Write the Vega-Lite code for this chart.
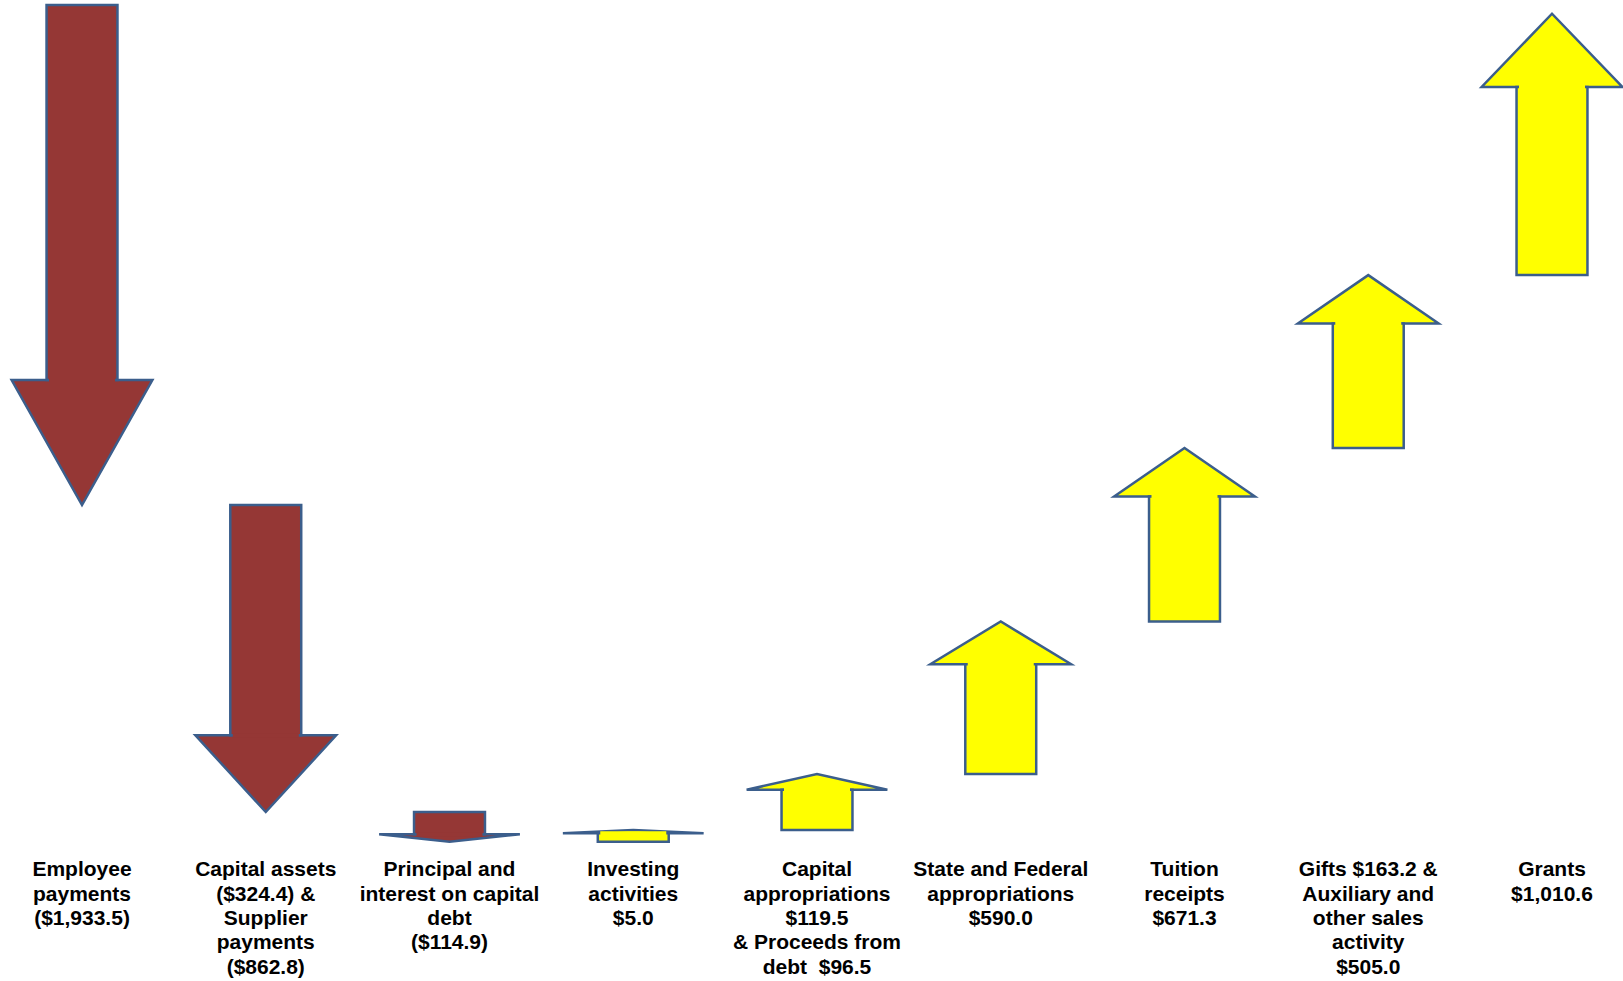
{
  "$schema": "https://vega.github.io/schema/vega-lite/v6.json",
  "width": 1623,
  "height": 981,
  "autosize": {"type": "none"},
  "padding": 0,
  "background": "white",
  "config": {"view": {"stroke": null}},
  "data": {
    "values": [
      {"idx": 0, "label": "Employee\npayments\n($1,933.5)", "flow": "Outflow", "amount": -1933.5, "start": 0, "end": -1933.5},
      {"idx": 1, "label": "Capital assets\n($324.4) &\nSupplier\npayments\n($862.8)", "flow": "Outflow", "amount": -1187.2, "start": -1933.5, "end": -3120.7},
      {"idx": 2, "label": "Principal and\ninterest on capital\ndebt\n($114.9)", "flow": "Outflow", "amount": -114.9, "start": -3120.7, "end": -3235.6},
      {"idx": 3, "label": "Investing\nactivities\n$5.0", "flow": "Inflow", "amount": 5.0, "start": -3235.6, "end": -3190},
      {"idx": 4, "label": "Capital\nappropriations\n$119.5\n& Proceeds from\ndebt \u00a0$96.5", "flow": "Inflow", "amount": 216.0, "start": -3190, "end": -2974},
      {"idx": 5, "label": "State and Federal\nappropriations\n$590.0", "flow": "Inflow", "amount": 590.0, "start": -2974, "end": -2384},
      {"idx": 6, "label": "Tuition\nreceipts\n$671.3", "flow": "Inflow", "amount": 671.3, "start": -2384, "end": -1712.7},
      {"idx": 7, "label": "Gifts $163.2 &\nAuxiliary and\nother sales\nactivity\n$505.0", "flow": "Inflow", "amount": 668.2, "start": -1712.7, "end": -1044.5},
      {"idx": 8, "label": "Grants\n$1,010.6", "flow": "Inflow", "amount": 1010.6, "start": -1044.5, "end": -33.9}
    ]
  },
  "transform": [
    {"calculate": "datum.end - (datum.end - datum.start) * (datum.flow == 'Outflow' ? 0.25 : 0.28)", "as": "neck"}
  ],
  "layer": [
    {
      "transform": [
        {"calculate": "datum.idx - 0.383", "as": "hl"},
        {"calculate": "datum.idx", "as": "hc"},
        {"calculate": "datum.idx + 0.383", "as": "hr"},
        {"fold": ["hl", "hc", "hr"], "as": ["vertex", "vx"]},
        {"calculate": "datum.vertex == 'hc' ? datum.end : datum.neck", "as": "vy2"}
      ],
      "mark": {"type": "area", "orient": "vertical", "stroke": "#3B5E8C", "strokeWidth": 2.5, "strokeJoin": "miter", "opacity": 1},
      "encoding": {
        "x": {"field": "vx", "type": "quantitative", "scale": {"domain": [-0.4463, 8.3864], "nice": false, "zero": false}, "axis": null},
        "y": {"field": "neck", "type": "quantitative", "scale": {"domain": [-3774.2, 19.3], "nice": false, "zero": false}, "axis": null},
        "y2": {"field": "vy2"},
        "detail": {"field": "label", "type": "nominal"},
        "color": {"field": "flow", "type": "nominal", "scale": {"domain": ["Outflow", "Inflow"], "range": ["#953735", "#FFFF00"]}, "legend": null}
      }
    },
    {
      "transform": [
        {"calculate": "datum.idx - 0.193", "as": "x0"},
        {"calculate": "datum.idx + 0.193", "as": "x1"}
      ],
      "mark": {"type": "rect", "stroke": "#3B5E8C", "strokeWidth": 2.5, "opacity": 1},
      "encoding": {
        "x": {"field": "x0", "type": "quantitative", "scale": {"domain": [-0.4463, 8.3864], "nice": false, "zero": false}, "axis": null},
        "x2": {"field": "x1"},
        "y": {"field": "start", "type": "quantitative", "scale": {"domain": [-3774.2, 19.3], "nice": false, "zero": false}, "axis": null},
        "y2": {"field": "neck"},
        "color": {"field": "flow", "type": "nominal", "scale": {"domain": ["Outflow", "Inflow"], "range": ["#953735", "#FFFF00"]}, "legend": null}
      }
    },
    {
      "mark": {"type": "tick", "orient": "horizontal", "size": 66, "thickness": 4, "opacity": 1},
      "encoding": {
        "x": {"field": "idx", "type": "quantitative", "scale": {"domain": [-0.4463, 8.3864], "nice": false, "zero": false}, "axis": null},
        "y": {"field": "neck", "type": "quantitative", "scale": {"domain": [-3774.2, 19.3], "nice": false, "zero": false}, "axis": null},
        "color": {"field": "flow", "type": "nominal", "scale": {"domain": ["Outflow", "Inflow"], "range": ["#953735", "#FFFF00"]}, "legend": null}
      }
    },
    {
      "mark": {"type": "text", "align": "center", "baseline": "top", "font": "Liberation Sans", "fontWeight": "bold", "fontSize": 21, "lineHeight": 24.3, "lineBreak": "\n", "color": "black"},
      "encoding": {
        "x": {"field": "idx", "type": "quantitative", "scale": {"domain": [-0.4463, 8.3864], "nice": false, "zero": false}, "axis": null},
        "y": {"datum": -3304.3, "type": "quantitative", "scale": {"domain": [-3774.2, 19.3], "nice": false, "zero": false}, "axis": null},
        "text": {"field": "label", "type": "nominal"}
      }
    }
  ]
}
